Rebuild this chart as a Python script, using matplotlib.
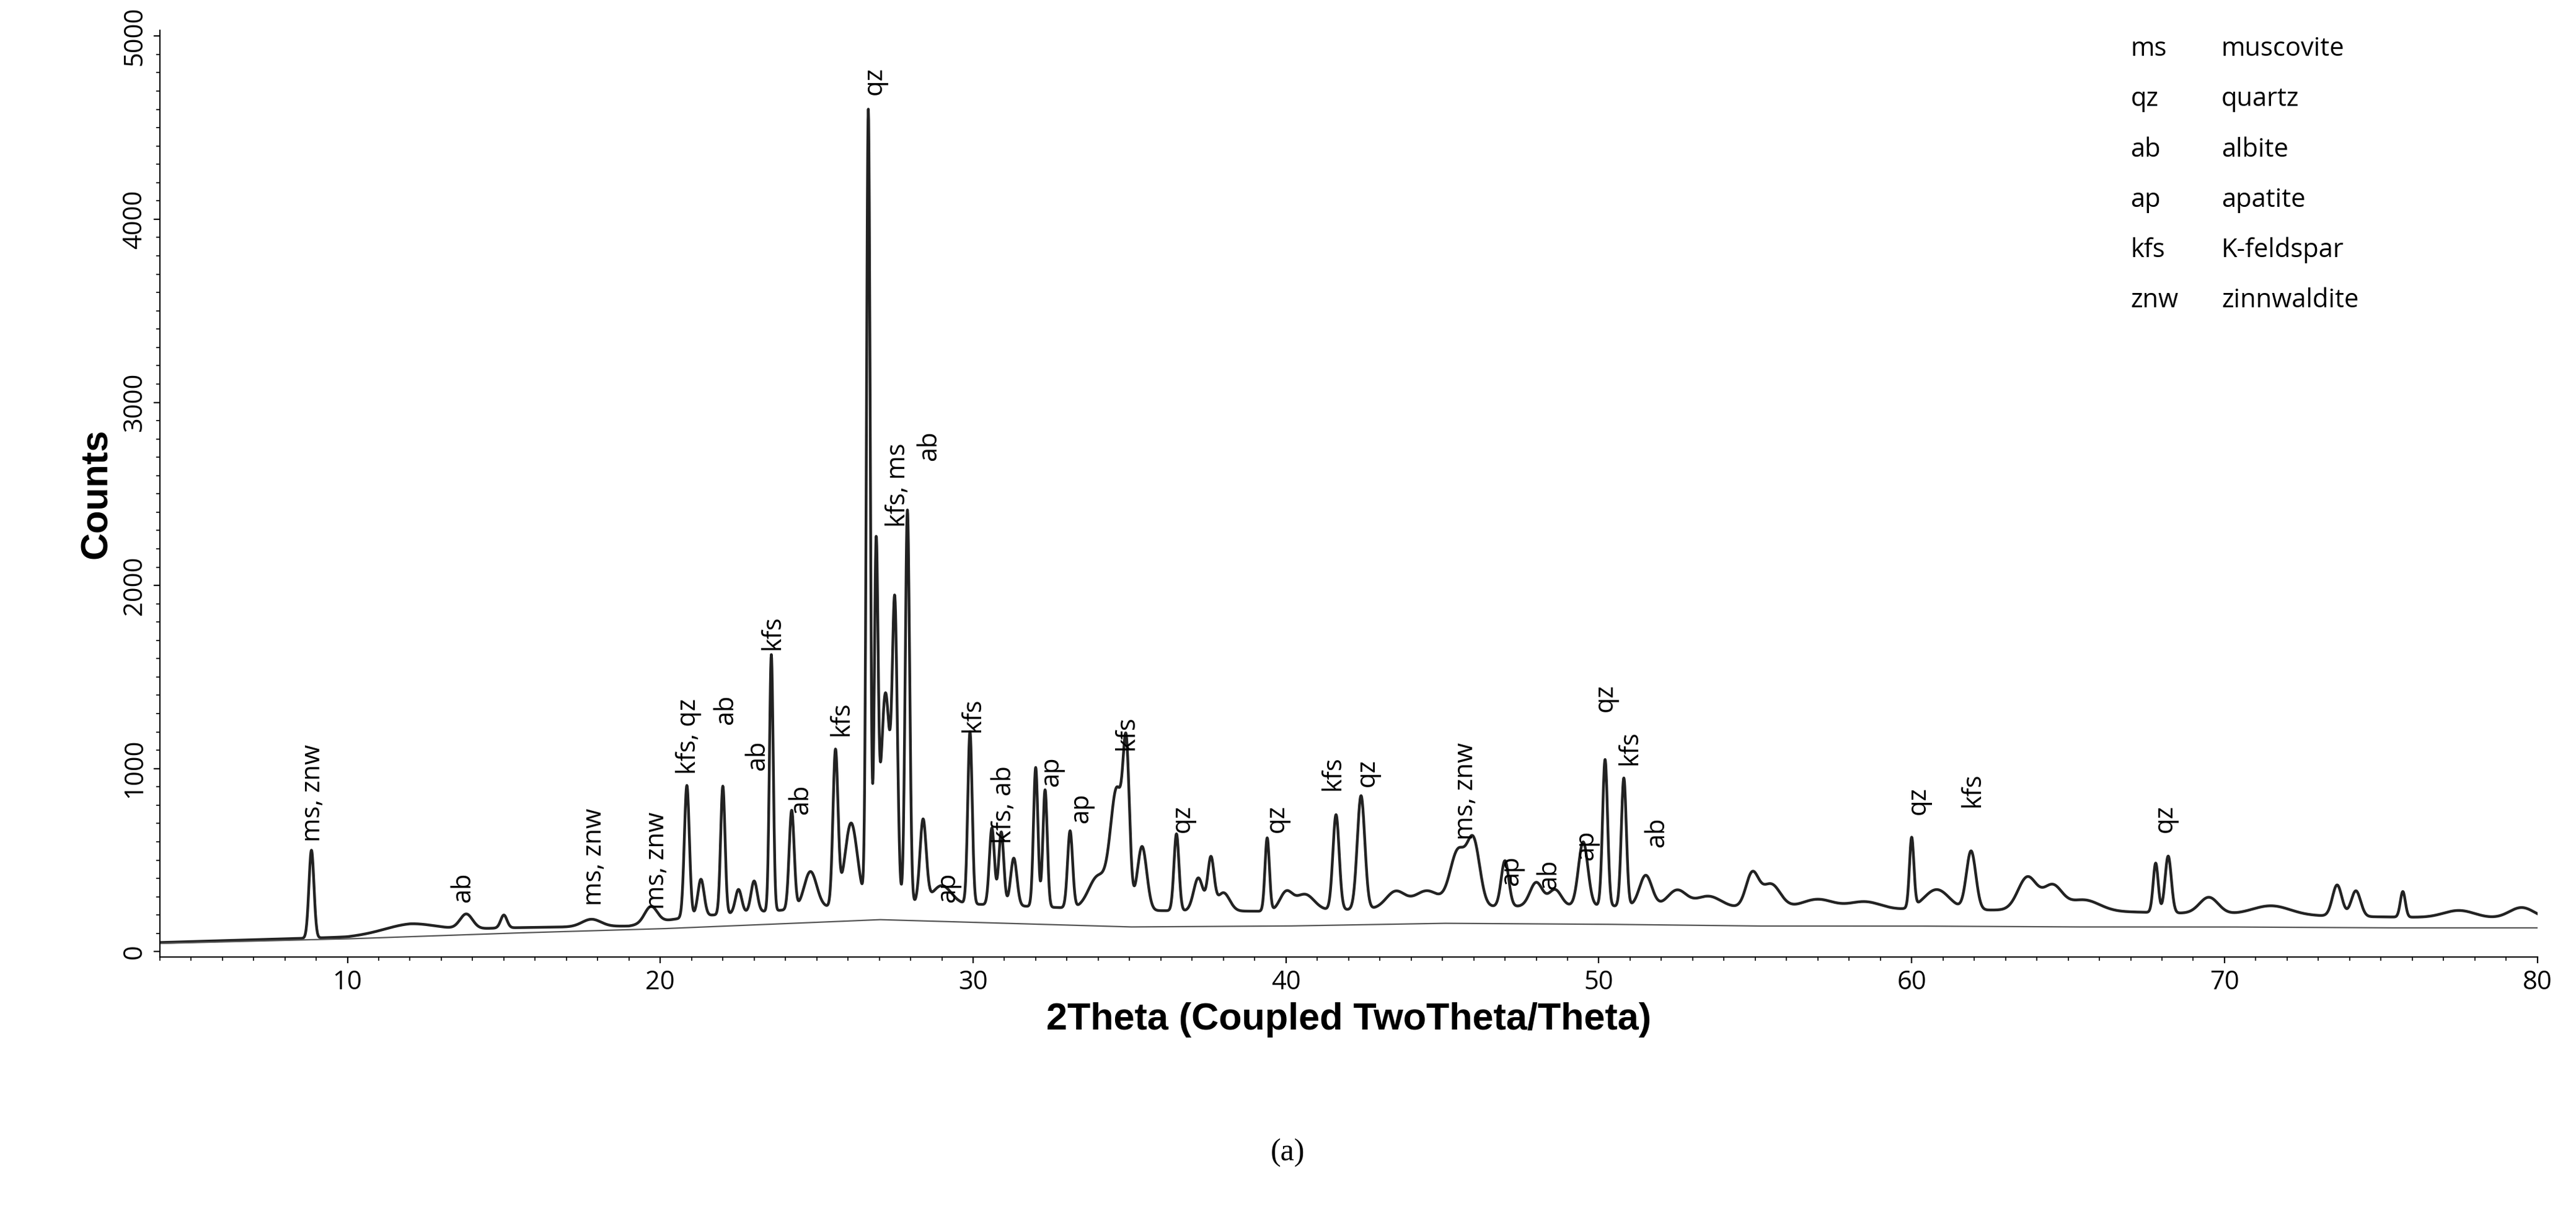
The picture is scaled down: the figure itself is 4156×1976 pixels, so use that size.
import numpy as np
import matplotlib
matplotlib.use("agg")
import matplotlib.pyplot as plt
from matplotlib.ticker import MultipleLocator

plt.rcParams['font.family'] = ['Open Sans', 'DejaVu Sans']

# background line (2theta, counts)
bg_x = [4, 10, 15, 20, 25, 27, 30, 35, 40, 45, 50, 55, 60, 65, 70, 75, 80]
bg_y = [45, 70, 100, 125, 160, 175, 160, 135, 140, 155, 150, 140, 140, 135, 135, 130, 130]

# extra diffuse intensity of the measured pattern above the background line
df_x = [4, 10, 12, 15, 19, 21, 25, 30, 35, 40, 45, 50, 55, 60, 65, 70, 75, 80]
df_y = [5, 10, 30, 30, 20, 60, 80, 100, 90, 80, 90, 100, 100, 90, 90, 70, 60, 50]

# peaks: position, height above background, width
pk_pos = [8.85, 12.0, 13.8, 15.0, 17.8, 19.7, 20.85, 21.3, 22.0, 22.5, 23.0, 23.55, 24.2, 24.8,
          25.6, 26.1, 26.65, 26.9, 27.2, 27.5, 27.9, 28.4, 29.0, 29.9, 30.6, 30.9, 31.3, 32.0,
          32.3, 33.1, 34.0, 34.6, 34.9, 35.4, 36.5, 37.2, 37.6, 38.0, 39.4, 40.0, 40.6, 41.6,
          42.4, 43.5, 44.5, 45.5, 46.0, 47.0, 48.0, 48.6, 49.5, 50.2, 50.8, 51.5, 52.5, 53.5,
          54.9, 55.5, 57.0, 58.5, 60.0, 60.8, 61.9, 63.7, 64.5, 65.5, 67.8, 68.2, 69.5, 71.5,
          73.6, 74.2, 75.7, 77.5, 79.5]
pk_h = [480, 40, 80, 70, 40, 90, 720, 200, 700, 130, 170, 1400, 540, 200,
        840, 450, 4330, 1850, 1150, 1520, 2150, 450, 100, 940, 420, 400, 260, 760,
        640, 420, 180, 640, 740, 350, 420, 180, 280, 100, 400, 100, 90, 520,
        620, 90, 90, 300, 340, 250, 130, 90, 350, 800, 700, 170, 90, 60,
        180, 130, 50, 40, 380, 110, 320, 180, 130, 60, 270, 310, 90, 50,
        170, 140, 140, 40, 60]
pk_w = [0.08, 0.8, 0.2, 0.1, 0.3, 0.2, 0.08, 0.1, 0.07, 0.1, 0.1, 0.06, 0.08, 0.2,
        0.08, 0.2, 0.06, 0.06, 0.15, 0.08, 0.07, 0.1, 0.3, 0.07, 0.08, 0.08, 0.1, 0.07,
        0.07, 0.08, 0.3, 0.2, 0.1, 0.15, 0.08, 0.15, 0.1, 0.2, 0.07, 0.2, 0.3, 0.1,
        0.12, 0.3, 0.4, 0.25, 0.2, 0.12, 0.2, 0.2, 0.15, 0.08, 0.08, 0.2, 0.3, 0.4,
        0.2, 0.3, 0.5, 0.5, 0.07, 0.4, 0.15, 0.3, 0.3, 0.5, 0.08, 0.1, 0.3, 0.6,
        0.15, 0.15, 0.08, 0.5, 0.4]

# phase labels: text, x, bottom y
lab_txt = ["ms, znw", "ab", "ms, znw", "ms, znw", "kfs, qz", "ab", "ab", "kfs", "ab", "kfs",
           "qz", "kfs, ms", "ab", "ap", "kfs", "kfs, ab", "ap", "ap", "kfs", "qz", "qz",
           "kfs", "qz", "ms, znw", "ap", "ab", "ap", "qz", "kfs", "ab", "qz", "kfs", "qz"]
lab_x = [8.9, 13.7, 17.9, 19.9, 20.9, 22.1, 23.1, 23.6, 24.5, 25.8,
         26.85, 27.6, 28.6, 29.2, 30.0, 31.0, 32.5, 33.45, 34.9, 36.7, 39.7,
         41.5, 42.6, 45.75, 47.2, 48.4, 49.6, 50.2, 51.0, 51.85, 60.2, 61.95, 68.1]
lab_y = [600, 270, 250, 230, 970, 1240, 990, 1650, 750, 1180,
         4680, 2320, 2680, 270, 1200, 590, 900, 700, 1100, 650, 650,
         880, 900, 610, 360, 340, 500, 1310, 1020, 570, 750, 790, 650]

legend_abbr = ["ms", "qz", "ab", "ap", "kfs", "znw"]
legend_name = ["muscovite", "quartz", "albite", "apatite", "K-feldspar", "zinnwaldite"]

x = np.arange(4, 80.001, 0.01)
bg = np.interp(x, bg_x, bg_y)
y = bg + np.interp(x, df_x, df_y)
for p, h, w in zip(pk_pos, pk_h, pk_w):
    y += h * np.exp(-0.5 * ((x - p) / w) ** 2)

fig = plt.figure(figsize=(20.78, 9.88), dpi=200)
ax = fig.add_axes([0.062, 0.218, 0.923, 0.757])
ax.plot(x, y, color="#222222", lw=1.6)
ax.plot(x, bg, color="#555555", lw=0.8)
ax.set_xlim(4, 80)
ax.set_ylim(-30, 5030)
for s in ["top", "right"]:
    ax.spines[s].set_visible(False)
ax.xaxis.set_major_locator(MultipleLocator(10))
ax.xaxis.set_minor_locator(MultipleLocator(1))
ax.yaxis.set_major_locator(MultipleLocator(1000))
ax.yaxis.set_minor_locator(MultipleLocator(100))
ax.tick_params(labelsize=15)
plt.setp(ax.get_yticklabels(), rotation=90, va="center")
ax.set_xlabel("2Theta (Coupled TwoTheta/Theta)", fontsize=22, fontweight="bold",
              family=["Liberation Sans"])
ax.set_ylabel("Counts", fontsize=22, fontweight="bold", family=["Liberation Sans"])

for t, lx, ly in zip(lab_txt, lab_x, lab_y):
    ax.text(lx, ly, t, rotation=90, ha="center", va="bottom", fontsize=15)

for i, (a, n) in enumerate(zip(legend_abbr, legend_name)):
    yy = 4930 - i * 275
    ax.text(67.0, yy, a, fontsize=15, va="center")
    ax.text(69.9, yy, n, fontsize=15, va="center")

fig.text(0.5, 0.058, "(a)", ha="center", va="center", fontsize=18, fontfamily="Liberation Serif")
fig.savefig("out.png", dpi=200)
